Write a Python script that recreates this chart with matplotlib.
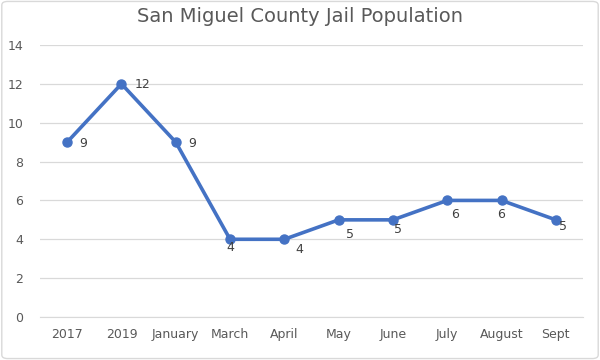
import matplotlib
matplotlib.use("Agg")
import matplotlib.pyplot as plt
from matplotlib.patches import FancyBboxPatch

categories = ["2017", "2019", "January", "March", "April", "May", "June", "July", "August", "Sept"]
population = [9, 12, 9, 4, 4, 5, 5, 6, 6, 5]
label_offsets_px = [(16, -1), (21, -1), (16, -1), (0, -8), (15, -10), (11, -15), (5, -10), (8, -14), (0, -14), (7, -7)]

fig = plt.figure(figsize=(6, 3.6), dpi=100)
ax = fig.add_axes([40/600, 1-317/360, 543/600, 272/360])

x = list(range(len(categories)))
ax.plot(x, population, color="#4472C4", linewidth=2.6, marker="o", markersize=6.5, zorder=3)

for xi, v, (dx, dy) in zip(x, population, label_offsets_px):
    ax.annotate(str(v), (xi, v), xytext=(dx, dy), textcoords="offset pixels",
                ha="center", va="center", fontsize=9, color="#404040")

ax.set_xlim(-0.5, len(categories) - 0.5)
ax.set_ylim(0, 14)
ax.set_yticks(range(0, 15, 2))
ax.set_xticks(x)
ax.set_xticklabels(categories)
ax.grid(axis="y", color="#D9D9D9", linewidth=0.9)
ax.set_axisbelow(True)
for s in ["top", "right", "left"]:
    ax.spines[s].set_visible(False)
ax.spines["bottom"].set_color("#D9D9D9")
ax.tick_params(axis="both", length=0, labelsize=9, colors="#595959", pad=8)
ax.tick_params(axis="y", pad=12)

fig.text(0.5, 1-16/360, "San Miguel County Jail Population", ha="center", va="center",
         fontsize=14, color="#595959")

fig.patches.append(FancyBboxPatch((0.003, 0.004), 0.994, 0.992, boxstyle="round,pad=0,rounding_size=0.01",
                                  transform=fig.transFigure, fill=False, edgecolor="#D9D9D9", linewidth=1))

fig.savefig("out.png", dpi=100)
